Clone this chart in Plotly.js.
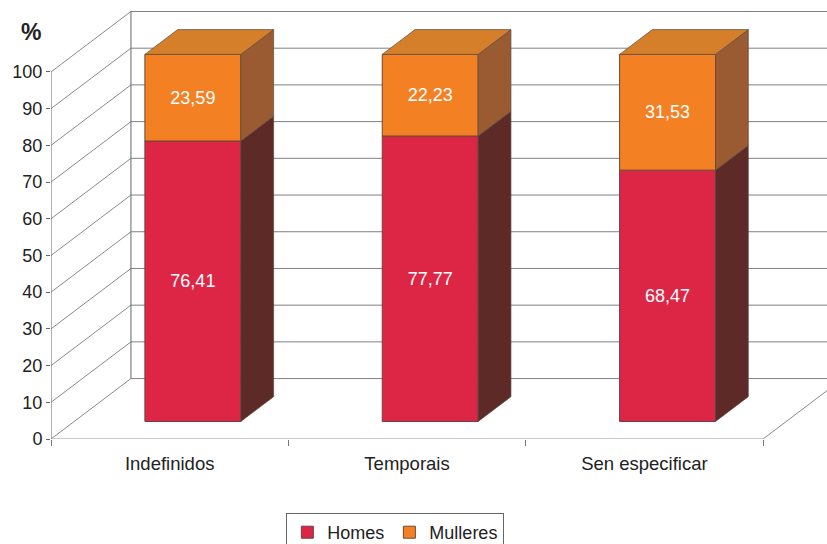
<!DOCTYPE html>
<html><head><meta charset="utf-8">
<script src="https://cdn.plot.ly/plotly-3.0.1.min.js"></script>
<style>html,body{margin:0;padding:0;background:#fff;overflow:hidden}#c{width:827px;height:544px}</style>
</head><body><div id="c"></div>
<script>
const categories = ['Indefinidos','Temporais','Sen especificar'];
const homes = [76.41,77.77,68.47];
const mulleres = [23.59,22.23,31.53];
const yTicks = [0,10,20,30,40,50,60,70,80,90,100];

const W=827,H=544,L=50.5,FLOOR=439.5,PXU=237.5,PXV=3.675;
const DX=80/PXU, DY=60.5/PXV;       // full wall depth, in axis units
const F0=0.29, F1=0.70;             // bar front/back position in the depth
const BW=96/PXU;
const xMax=(W-L)/PXU, yMax=FLOOR/PXV;
const centers=categories.map((_,i)=>i+0.5);
const cx=centers.map(c=>c+F0*DX);
const lab=v=>v.toFixed(2).replace('.',',');
const baseY=F0*DY;
const depthX=(F1-F0)*DX, depthY=(F1-F0)*DY;

const seg=(x0,y0,x1,y1,color)=>({type:'line',xref:'x',yref:'y',x0,y0,x1,y1,layer:'below',line:{color:color||'#808080',width:1}});
const shapes=[];
yTicks.forEach(t=>{
  shapes.push(seg(0,t,DX,t+DY,'#8a8a8a'));
  shapes.push(seg(DX,t+DY,xMax,t+DY,'#808080'));
});
shapes.push(seg(DX,DY,DX,100+DY,'#666'));
shapes.push(seg(0,0,0,100,'#666'));
shapes.push(seg(0,0,3,0,'#999'));
shapes.push(seg(3,0,3+DX,DY,'#8a8a8a'));

function face(pts,color){
  const x=[],y=[];
  pts.forEach(p=>{p.forEach(q=>{x.push(q[0]);y.push(q[1]);});x.push(null);y.push(null);});
  return {type:'scatter',mode:'lines',x,y,fill:'toself',fillcolor:color,line:{color:'#5a4a40',width:0.7},showlegend:false,hoverinfo:'skip'};
}
const sideFace=(i,a,b)=>{const r=cx[i]+BW/2;return [[r,baseY+a],[r+depthX,baseY+a+depthY],[r+depthX,baseY+b+depthY],[r,baseY+b],[r,baseY+a]];};
const topFace=i=>{const l=cx[i]-BW/2,r=cx[i]+BW/2,t=baseY+homes[i]+mulleres[i];return [[l,t],[r,t],[r+depthX,t+depthY],[l+depthX,t+depthY],[l,t]];};

const labelFont={color:'#fff',size:18,family:'Liberation Sans, Arial, sans-serif'};
const traces=[
 {type:'bar',name:'Homes',x:cx,y:homes,base:cx.map(()=>baseY),width:BW,
  marker:{color:'#dd2645',line:{color:'#6b4048',width:1}},text:homes.map(lab),textposition:'inside',insidetextanchor:'middle',textangle:0,
  insidetextfont:labelFont,hoverinfo:'skip'},
 {type:'bar',name:'Mulleres',x:cx,y:mulleres,base:homes.map(h=>baseY+h),width:BW,
  marker:{color:'#f48024',line:{color:'#6b4a30',width:1}},text:mulleres.map(lab),textposition:'inside',insidetextanchor:'middle',textangle:0,
  insidetextfont:labelFont,hoverinfo:'skip'},
 face(categories.map((_,i)=>sideFace(i,0,homes[i])),'#5e2a28'),
 face(categories.map((_,i)=>sideFace(i,homes[i],homes[i]+mulleres[i])),'#9a5a32'),
 face(categories.map((_,i)=>topFace(i)),'#d57f2b')
];

const layout={
 width:W,height:H,margin:{l:L,r:0,t:0,b:H-FLOOR,pad:0},paper_bgcolor:'#fff',plot_bgcolor:'#fff',
 font:{family:'Liberation Sans, Arial, sans-serif',size:18,color:'#222'},
 barmode:'overlay',showlegend:true,shapes,
 xaxis:{range:[0,xMax],tickmode:'array',tickvals:centers,ticktext:categories,ticks:'',showgrid:false,zeroline:false,showline:false,ticklabelstandoff:11,
  minor:{tickmode:'array',tickvals:[0,1,2,3],ticks:'outside',ticklen:6,tickcolor:'#777',tickwidth:1,showgrid:false},
  tickfont:{size:18.5,color:'#222'}},
 yaxis:{range:[0,yMax],tickmode:'array',tickvals:yTicks,ticks:'outside',ticklen:4,tickcolor:'#666',tickwidth:1,showgrid:false,zeroline:false,
  tickfont:{size:18,color:'#222'}},
 legend:{orientation:'h',xref:'paper',x:(286-L)/(W-L),xanchor:'left',yref:'container',y:1-513/H,yanchor:'top',bordercolor:'#666',borderwidth:1,bgcolor:'#fff',
  font:{size:18,color:'#222'},traceorder:'normal'},
 annotations:[{text:'<b>%</b>',xref:'paper',yref:'paper',x:-(L-30)/(W-L),y:(FLOOR-32)/FLOOR,xanchor:'center',yanchor:'middle',showarrow:false,font:{size:23,color:'#222'}}]
};
Plotly.newPlot('c',traces,layout,{displayModeBar:false,staticPlot:true});
</script></body></html>
